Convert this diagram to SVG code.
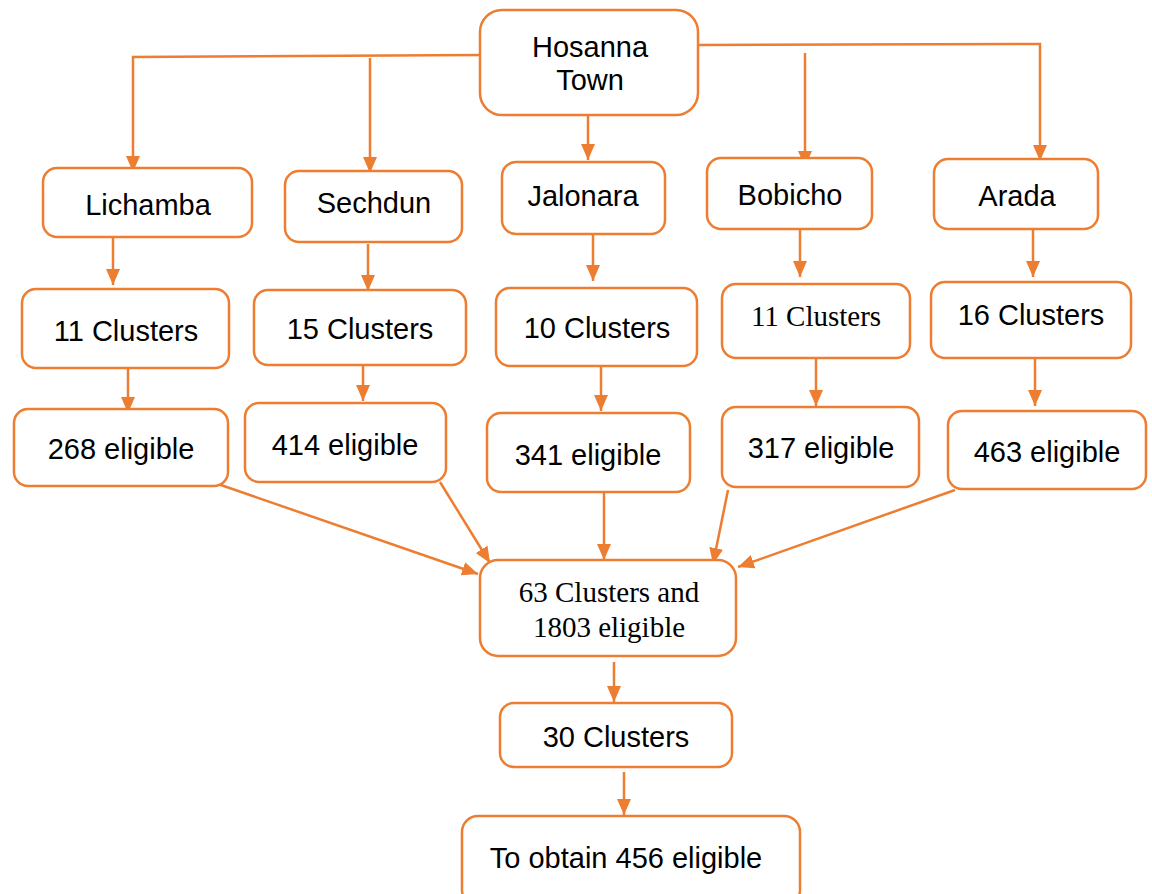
<svg xmlns="http://www.w3.org/2000/svg" width="1152" height="894" viewBox="0 0 1152 894">
<style>
.box{fill:#fff;stroke:#ED7D31;stroke-width:2.5}
.t{font-family:"Liberation Sans",Arial,sans-serif;font-size:29px;fill:#000;text-anchor:middle}
.s{font-family:"Liberation Serif","Times New Roman",serif;font-size:29px;fill:#000;text-anchor:middle}
.c{fill:none;stroke:#ED7D31;stroke-width:2.5}
</style>
<defs>
<marker id="ah" viewBox="0 0 16 14" refX="16" refY="7" markerWidth="16" markerHeight="14" orient="auto" markerUnits="userSpaceOnUse">
<path d="M0,0 L16,7 L0,14 z" fill="#ED7D31"/>
</marker>
</defs>
<rect width="1152" height="894" fill="#fff"/>
<g id="connectors">
<polyline class="c" points="480,55 133,57 133,172" marker-end="url(#ah)"/>
<line class="c" x1="370" y1="58" x2="370" y2="173" marker-end="url(#ah)"/>
<line class="c" x1="588" y1="115" x2="588" y2="160" marker-end="url(#ah)"/>
<polyline class="c" points="698,45 1040,44 1040,161" marker-end="url(#ah)"/>
<line class="c" x1="805" y1="53" x2="805" y2="167" marker-end="url(#ah)"/>
<line class="c" x1="113" y1="238" x2="113" y2="285" marker-end="url(#ah)"/>
<line class="c" x1="368" y1="244" x2="368" y2="291" marker-end="url(#ah)"/>
<line class="c" x1="593" y1="235" x2="593" y2="281" marker-end="url(#ah)"/>
<line class="c" x1="800" y1="230" x2="800" y2="277" marker-end="url(#ah)"/>
<line class="c" x1="1033" y1="230" x2="1033" y2="277" marker-end="url(#ah)"/>
<line class="c" x1="128" y1="369" x2="128" y2="413" marker-end="url(#ah)"/>
<line class="c" x1="363" y1="356" x2="363" y2="401" marker-end="url(#ah)"/>
<line class="c" x1="601" y1="367" x2="601" y2="411" marker-end="url(#ah)"/>
<line class="c" x1="816" y1="359" x2="816" y2="406" marker-end="url(#ah)"/>
<line class="c" x1="1035" y1="359" x2="1035" y2="406" marker-end="url(#ah)"/>
<line class="c" x1="218" y1="484" x2="478" y2="574" marker-end="url(#ah)"/>
<line class="c" x1="440" y1="482" x2="490" y2="563" marker-end="url(#ah)"/>
<line class="c" x1="604" y1="492" x2="604" y2="560" marker-end="url(#ah)"/>
<line class="c" x1="728" y1="490" x2="713" y2="564" marker-end="url(#ah)"/>
<line class="c" x1="955" y1="490" x2="738" y2="567" marker-end="url(#ah)"/>
<line class="c" x1="614" y1="662" x2="614" y2="702" marker-end="url(#ah)"/>
<line class="c" x1="624" y1="772" x2="624" y2="815" marker-end="url(#ah)"/>
</g>
<g id="hosanna"><rect class="box" x="480" y="10" width="218" height="105" rx="22"/><text class="t" x="590" y="57">Hosanna</text><text class="t" x="590" y="90">Town</text></g>
<g id="lichamba"><rect class="box" x="43" y="168" width="209" height="69" rx="14"/><text class="t" x="148" y="215">Lichamba</text></g>
<g id="sechdun"><rect class="box" x="285" y="171" width="177" height="71" rx="14"/><text class="t" x="374" y="213">Sechdun</text></g>
<g id="jalonara"><rect class="box" x="502" y="162" width="163" height="72" rx="14"/><text class="t" x="583" y="206">Jalonara</text></g>
<g id="bobicho"><rect class="box" x="707" y="158" width="165" height="71" rx="14"/><text class="t" x="790" y="205">Bobicho</text></g>
<g id="arada"><rect class="box" x="934" y="159" width="164" height="70" rx="14"/><text class="t" x="1017" y="206">Arada</text></g>
<g id="c11a"><rect class="box" x="22" y="289" width="207" height="79" rx="14"/><text class="t" x="126" y="341">11 Clusters</text></g>
<g id="c15"><rect class="box" x="254" y="290" width="212" height="75" rx="14"/><text class="t" x="360" y="339">15 Clusters</text></g>
<g id="c10"><rect class="box" x="496" y="288" width="201" height="78" rx="14"/><text class="t" x="597" y="338">10 Clusters</text></g>
<g id="c11b"><rect class="box" x="722" y="284" width="188" height="74" rx="14"/><text class="s" x="816" y="326">11 Clusters</text></g>
<g id="c16"><rect class="box" x="931" y="282" width="200" height="76" rx="14"/><text class="t" x="1031" y="325">16 Clusters</text></g>
<g id="e268"><rect class="box" x="14" y="409" width="214" height="77" rx="14"/><text class="t" x="121" y="459">268 eligible</text></g>
<g id="e414"><rect class="box" x="245" y="403" width="201" height="79" rx="14"/><text class="t" x="345" y="455">414 eligible</text></g>
<g id="e341"><rect class="box" x="487" y="413" width="203" height="79" rx="14"/><text class="t" x="588" y="465">341 eligible</text></g>
<g id="e317"><rect class="box" x="722" y="407" width="197" height="80" rx="14"/><text class="t" x="821" y="458">317 eligible</text></g>
<g id="e463"><rect class="box" x="948" y="411" width="198" height="78" rx="14"/><text class="t" x="1047" y="462">463 eligible</text></g>
<g id="merged"><rect class="box" x="480" y="560" width="256" height="96" rx="18"/><text class="s" x="609" y="602">63 Clusters and</text><text class="s" x="609" y="637">1803 eligible</text></g>
<g id="c30"><rect class="box" x="500" y="703" width="232" height="64" rx="14"/><text class="t" x="616" y="747">30 Clusters</text></g>
<g id="final"><rect class="box" x="462" y="816" width="338" height="90" rx="16"/><text class="t" x="626" y="868">To obtain 456 eligible</text></g>
</svg>
